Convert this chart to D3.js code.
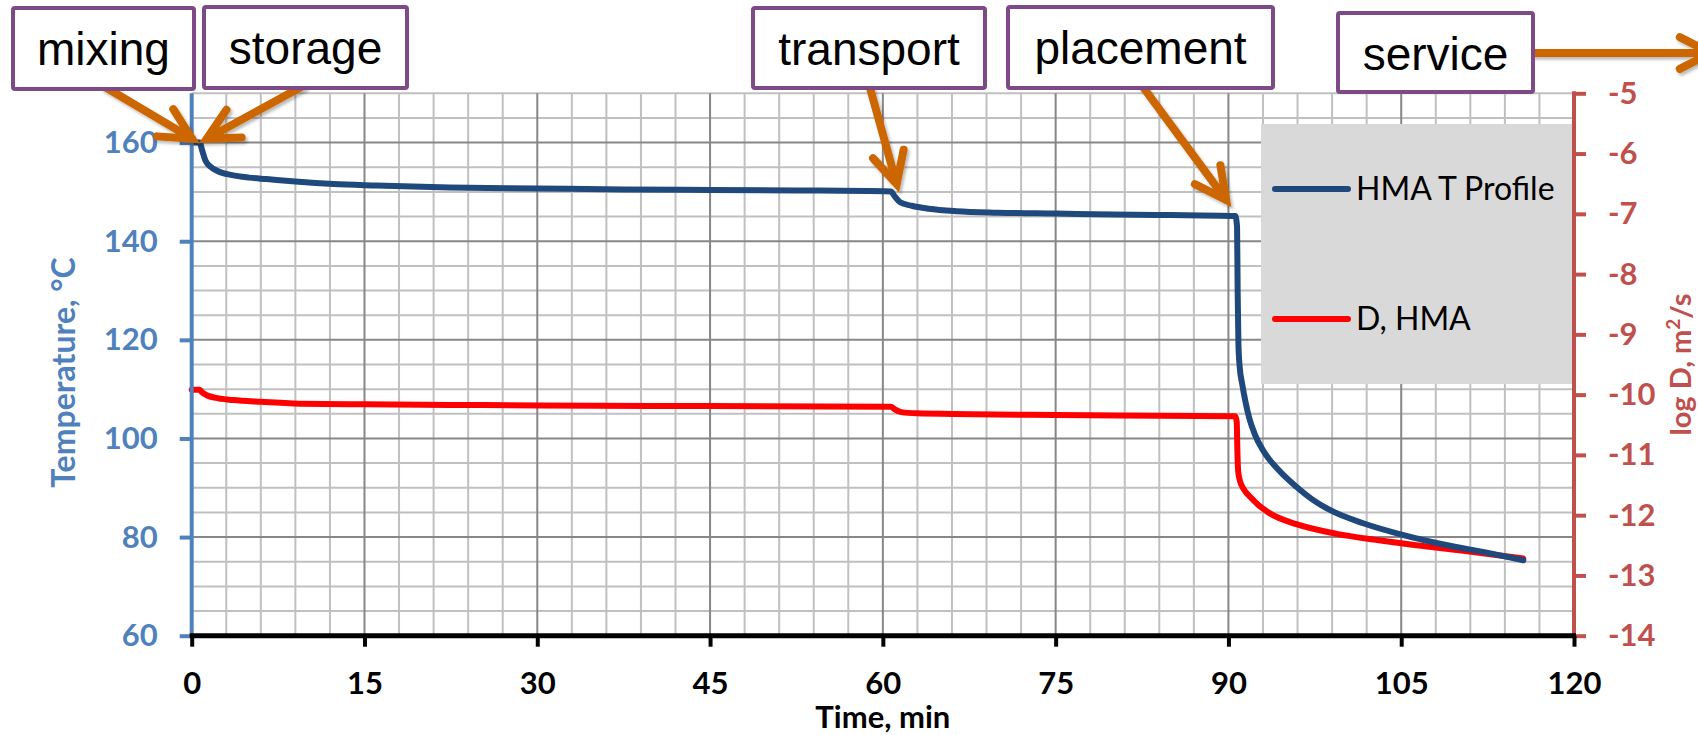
<!DOCTYPE html>
<html>
<head>
<meta charset="utf-8">
<script src="https://cdn.jsdelivr.net/npm/d3@7"></script>
<style>
  html, body { margin: 0; padding: 0; background: #ffffff; }
  svg { display: block; }
</style>
</head>
<body>
<svg id="chart" width="1698" height="735"></svg>
<script>
// ---- Data ---------------------------------------------------------------
// HMA temperature profile, time in minutes, temperature in °C
const tempTime = [0, 0.7, 0.9, 1.2, 1.7, 2.2, 3.5, 5, 6.5, 9, 12.3, 16, 22.4, 30, 37.5, 45, 52.5,
  60.7, 61.0, 61.5, 62.5, 64, 66.4, 70, 75, 80, 85, 90.6, 90.75, 90.8, 90.87, 90.98, 91.2, 91.5,
  91.8, 92.3, 93, 94.4, 95.9, 97.3, 98.8, 101.7, 105.2, 108.9, 112.1, 115.6];
const tempValue = [160, 160, 158.5, 156.3, 155.0, 154.3, 153.4, 152.9, 152.6, 152.1, 151.6, 151.3, 150.9, 150.7, 150.5, 150.4, 150.3,
  150.1, 149.2, 147.9, 147.2, 146.6, 146.1, 145.8, 145.6, 145.4, 145.3, 145.1, 143, 130, 119, 114.5, 111.0, 107.2,
  104.2, 100.8, 97.6, 93.5, 90.2, 87.6, 85.5, 82.8, 80.4, 78.4, 77.0, 75.3];

// Diffusion coefficient of the HMA, log10 D (m²/s)
const diffTime = [0, 0.7, 0.9, 1.3, 2, 3.6, 6, 9.4, 15, 22.5, 30, 45, 60.7, 61.0, 61.6, 63, 66, 75,
  90.6, 90.72, 90.78, 90.85, 91.0, 91.3, 91.9, 92.6, 93.6, 95.9, 99.4, 103.2, 106.3, 110.4, 115.6];
const diffValue = [-9.92, -9.92, -9.96, -10.01, -10.05, -10.09, -10.12, -10.15, -10.16, -10.17, -10.18, -10.19, -10.20, -10.24, -10.29, -10.31, -10.32, -10.34,
  -10.36, -10.45, -10.95, -11.28, -11.43, -11.56, -11.70, -11.83, -11.97, -12.15, -12.31, -12.42, -12.50, -12.59, -12.72];

// Axis ticks
const timeTicks = [0, 15, 30, 45, 60, 75, 90, 105, 120];
const tempTicks = [60, 80, 100, 120, 140, 160];
const diffTicks = [-14, -13, -12, -11, -10, -9, -8, -7, -6, -5];

// Series names (legend)
const seriesNames = ["HMA T Profile", "D, HMA"];

// Production phases and the point (time, °C) each callout arrow points to
const phaseNames = ["mixing", "storage", "transport", "placement", "service"];
const phaseTipTime = [0.03, 1.3, 61.2, 89.8];
const phaseTipTemp = [160.8, 160.8, 151.6, 148.4];

// ---- Layout & style -------------------------------------------------------
const W = 1698, H = 735;
const margin = { top: 93.3, right: 124, bottom: 99.3, left: 191.7 };
const plotW = W - margin.left - margin.right;
const plotH = H - margin.top - margin.bottom;

const colors = {
  temp: "#1F497D",
  diff: "#FF0000",
  leftAxis: "#4F81BD",
  rightAxis: "#C0504D",
  gridMinor: "#C0C0C0",
  gridMajor: "#878787",
  legendBg: "#D9D9D9",
  boxStroke: "#7D4A87",
  arrow: "#CC6600"
};
const numFont = "Lato, 'Open Sans', sans-serif";
const calloutFont = "'Liberation Sans', Arial, sans-serif";

// callout boxes: [x, y, width, height] in page pixels
const boxLayout = [
  [13, 8, 181, 81],
  [204, 7, 203, 81],
  [753, 8, 232, 80],
  [1008, 7, 265, 81],
  [1338, 13, 195, 79]
];
// where each arrow leaves its box
const arrowStart = [[105, 87], [303, 86], [870, 88], [1143, 87], [1533, 53]];

const svg = d3.select("#chart");
svg.append("rect").attr("width", W).attr("height", H).attr("fill", "#fff");

const defs = svg.append("defs");
const shadow = defs.append("filter").attr("id", "arrowShadow")
  .attr("x", "-20%").attr("y", "-20%").attr("width", "140%").attr("height", "140%");
shadow.append("feDropShadow").attr("dx", 2).attr("dy", 2.5).attr("stdDeviation", 1.8)
  .attr("flood-color", "#000").attr("flood-opacity", 0.28);

// ---- Scales ---------------------------------------------------------------
const x = d3.scaleLinear().domain([0, 120]).range([margin.left, margin.left + plotW]);
const yT = d3.scaleLinear().domain([60, 170]).range([margin.top + plotH, margin.top]);
const yD = d3.scaleLinear().domain([-14, -5]).range([margin.top + plotH, margin.top]);

// ---- Grid -----------------------------------------------------------------
const grid = svg.append("g");
const vLines = d3.range(0, 121, 3);
const hLines = d3.range(60, 171, 5);

grid.append("g").selectAll("line").data(vLines.filter(d => d % 15 !== 0)).join("line")
  .attr("x1", d => x(d)).attr("x2", d => x(d))
  .attr("y1", yT(60)).attr("y2", yT(170))
  .attr("stroke", colors.gridMinor).attr("stroke-width", 2);
grid.append("g").selectAll("line").data(hLines.filter(d => d % 20 !== 0)).join("line")
  .attr("x1", x(0)).attr("x2", x(120))
  .attr("y1", d => yT(d)).attr("y2", d => yT(d))
  .attr("stroke", colors.gridMinor).attr("stroke-width", 2);
grid.append("g").selectAll("line").data(vLines.filter(d => d % 15 === 0 && d > 0 && d < 120)).join("line")
  .attr("x1", d => x(d)).attr("x2", d => x(d))
  .attr("y1", yT(60)).attr("y2", yT(170))
  .attr("stroke", colors.gridMajor).attr("stroke-width", 2);
grid.append("g").selectAll("line").data(hLines.filter(d => d % 20 === 0 && d > 60)).join("line")
  .attr("x1", x(0)).attr("x2", x(120))
  .attr("y1", d => yT(d)).attr("y2", d => yT(d))
  .attr("stroke", colors.gridMajor).attr("stroke-width", 2);

// ---- Series ---------------------------------------------------------------
const tempData = tempTime.map((t, i) => ({ t, v: tempValue[i] }));
const diffData = diffTime.map((t, i) => ({ t, v: diffValue[i] }));

const lineT = d3.line().x(d => x(d.t)).y(d => yT(d.v)).curve(d3.curveMonotoneX);
const lineD = d3.line().x(d => x(d.t)).y(d => yD(d.v)).curve(d3.curveMonotoneX);

svg.append("path").datum(diffData).attr("d", lineD)
  .attr("fill", "none").attr("stroke", colors.diff).attr("stroke-width", 6)
  .attr("stroke-linejoin", "round").attr("stroke-linecap", "round");
svg.append("path").datum(tempData).attr("d", lineT)
  .attr("fill", "none").attr("stroke", colors.temp).attr("stroke-width", 6)
  .attr("stroke-linejoin", "round").attr("stroke-linecap", "round");

// ---- Legend ---------------------------------------------------------------
const legend = svg.append("g");
const legX0 = 1261, legY0 = 124;
legend.append("rect").attr("x", legX0).attr("y", legY0)
  .attr("width", x(120) - legX0).attr("height", 260).attr("fill", colors.legendBg);
const legItems = [
  { name: seriesNames[0], color: colors.temp, dy: 65 },
  { name: seriesNames[1], color: colors.diff, dy: 195 }
];
const li = legend.selectAll("g.item").data(legItems).join("g")
  .attr("transform", d => `translate(${legX0}, ${legY0 + d.dy})`);
li.append("line").attr("x1", 14).attr("x2", 87).attr("y1", 0).attr("y2", 0)
  .attr("stroke", d => d.color).attr("stroke-width", 6).attr("stroke-linecap", "round");
li.append("text").attr("x", 95).attr("y", 11)
  .attr("font-family", numFont).attr("font-size", 32).attr("fill", "#000")
  .text(d => d.name);

// ---- Axes -----------------------------------------------------------------
function styleAxis(g, color, width, fontSize) {
  g.select(".domain").remove();
  g.selectAll(".tick line").attr("stroke", color).attr("stroke-width", width);
  g.selectAll(".tick text").attr("fill", color)
    .attr("font-family", numFont).attr("font-weight", "bold").attr("font-size", fontSize);
}

// left (temperature)
const axL = svg.append("g").attr("transform", `translate(${x(0)},0)`)
  .call(d3.axisLeft(yT).tickValues(tempTicks).tickSize(12).tickPadding(22).tickFormat(d3.format("d")));
styleAxis(axL, colors.leftAxis, 4, 31);
axL.append("line").attr("x1", 0).attr("x2", 0).attr("y1", yT(170)).attr("y2", yT(60))
  .attr("stroke", colors.leftAxis).attr("stroke-width", 4);

// right (log D)
const axR = svg.append("g").attr("transform", `translate(${x(120)},0)`)
  .call(d3.axisRight(yD).tickValues(diffTicks).tickSize(12).tickPadding(22).tickFormat(d3.format("d")));
styleAxis(axR, colors.rightAxis, 4, 31);
axR.selectAll(".tick text").text(d => String(d));
axR.append("line").attr("x1", 0).attr("x2", 0).attr("y1", yD(-5) - 2).attr("y2", yD(-14) + 2)
  .attr("stroke", colors.rightAxis).attr("stroke-width", 4);

// bottom (time)
const axB = svg.append("g").attr("transform", `translate(0,${yT(60)})`)
  .call(d3.axisBottom(x).tickValues(timeTicks).tickSize(11).tickPadding(25).tickFormat(d3.format("d")));
styleAxis(axB, "#000", 4, 31);
axB.append("line").attr("x1", x(0) - 2).attr("x2", x(120) + 2).attr("y1", 0).attr("y2", 0)
  .attr("stroke", "#000").attr("stroke-width", 5);

// axis titles
svg.append("text")
  .attr("transform", `translate(75, ${(yT(60) + yT(170)) / 2 + 8}) rotate(-90)`)
  .attr("text-anchor", "middle").attr("font-family", numFont).attr("font-weight", "bold")
  .attr("font-size", 32).attr("fill", colors.leftAxis)
  .text("Temperature, °C");

const rTitle = svg.append("text")
  .attr("transform", `translate(1691, ${(yD(-14) + yD(-5)) / 2}) rotate(-90)`)
  .attr("text-anchor", "middle").attr("font-family", numFont).attr("font-weight", "bold")
  .attr("font-size", 29).attr("fill", colors.rightAxis);
rTitle.append("tspan").text("log D, m");
rTitle.append("tspan").attr("dy", -11).attr("font-size", 19).text("2");
rTitle.append("tspan").attr("dy", 11).text("/s");

svg.append("text")
  .attr("x", (x(0) + x(120)) / 2).attr("y", 728)
  .attr("text-anchor", "middle").attr("font-family", numFont).attr("font-weight", "bold")
  .attr("font-size", 31).attr("fill", "#000")
  .text("Time, min");

// ---- Phase callouts ---------------------------------------------------------
const callouts = svg.append("g");
const arrows = callouts.append("g").attr("filter", "url(#arrowShadow)");

function arrowPath(x0, y0, x1, y1) {
  const a = Math.atan2(y1 - y0, x1 - x0);
  const L = 35, spread = 0.47;
  const ax1 = x1 + L * Math.cos(a + Math.PI - spread), ay1 = y1 + L * Math.sin(a + Math.PI - spread);
  const ax2 = x1 + L * Math.cos(a + Math.PI + spread), ay2 = y1 + L * Math.sin(a + Math.PI + spread);
  return `M${x0},${y0}L${x1},${y1}M${ax1},${ay1}L${x1},${y1}L${ax2},${ay2}`;
}

phaseNames.forEach((name, i) => {
  const [sx, sy] = arrowStart[i];
  let tx, ty;
  if (i < phaseTipTime.length) {
    tx = x(phaseTipTime[i]);
    ty = yT(phaseTipTemp[i]);
  } else {
    tx = W + 13; ty = sy;   // service continues beyond the time range
  }
  arrows.append("path").attr("d", arrowPath(sx, sy, tx, ty))
    .attr("fill", "none").attr("stroke", colors.arrow).attr("stroke-width", 8)
    .attr("stroke-linecap", "round").attr("stroke-linejoin", "miter");
});

phaseNames.forEach((name, i) => {
  const [bx, by, bw, bh] = boxLayout[i];
  callouts.append("rect").attr("x", bx).attr("y", by).attr("width", bw).attr("height", bh)
    .attr("rx", 2).attr("fill", "#fff").attr("stroke", colors.boxStroke).attr("stroke-width", 4);
  callouts.append("text").attr("x", bx + bw / 2).attr("y", by + 57)
    .attr("text-anchor", "middle").attr("font-family", calloutFont).attr("font-size", 46)
    .attr("fill", "#000").text(name);
});
</script>
</body>
</html>
